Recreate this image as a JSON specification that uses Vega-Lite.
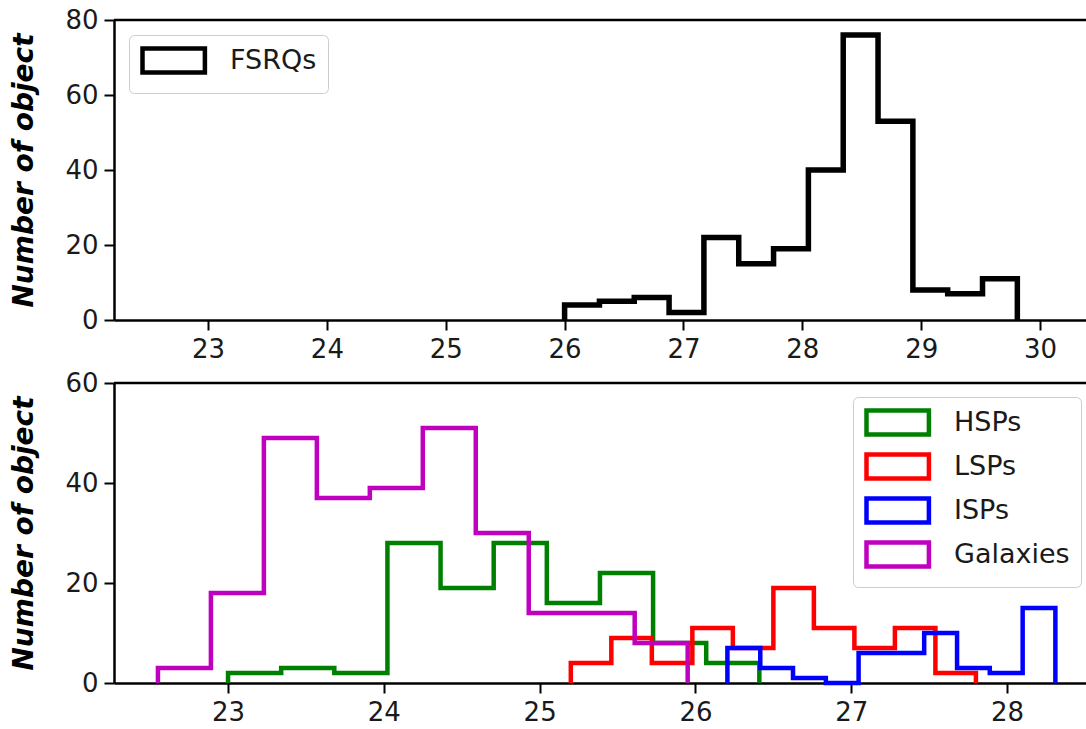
{
  "$schema": "https://vega.github.io/schema/vega-lite/v6.json",
  "padding": {"left": 10, "top": 7, "right": 0, "bottom": 0},
  "autosize": {"type": "pad"},
  "bounds": "flush",
  "spacing": 63,
  "background": "white",
  "datasets": {
    "fsrq": [
      {"series": "FSRQs", "i": 0, "edge": 26.0, "count": 0},
      {"series": "FSRQs", "i": 1, "edge": 26.0, "count": 4},
      {"series": "FSRQs", "i": 2, "edge": 26.293, "count": 5},
      {"series": "FSRQs", "i": 3, "edge": 26.586, "count": 6},
      {"series": "FSRQs", "i": 4, "edge": 26.879, "count": 2},
      {"series": "FSRQs", "i": 5, "edge": 27.172, "count": 22},
      {"series": "FSRQs", "i": 6, "edge": 27.465, "count": 15},
      {"series": "FSRQs", "i": 7, "edge": 27.758, "count": 19},
      {"series": "FSRQs", "i": 8, "edge": 28.051, "count": 40},
      {"series": "FSRQs", "i": 9, "edge": 28.344, "count": 76},
      {"series": "FSRQs", "i": 10, "edge": 28.637, "count": 53},
      {"series": "FSRQs", "i": 11, "edge": 28.93, "count": 8},
      {"series": "FSRQs", "i": 12, "edge": 29.223, "count": 7},
      {"series": "FSRQs", "i": 13, "edge": 29.516, "count": 11},
      {"series": "FSRQs", "i": 14, "edge": 29.809, "count": 0}
    ],
    "others": [
      {"series": "HSPs", "i": 0, "edge": 23.0, "count": 0},
      {"series": "HSPs", "i": 1, "edge": 23.0, "count": 2},
      {"series": "HSPs", "i": 2, "edge": 23.341, "count": 3},
      {"series": "HSPs", "i": 3, "edge": 23.682, "count": 2},
      {"series": "HSPs", "i": 4, "edge": 24.023, "count": 28},
      {"series": "HSPs", "i": 5, "edge": 24.364, "count": 19},
      {"series": "HSPs", "i": 6, "edge": 24.705, "count": 28},
      {"series": "HSPs", "i": 7, "edge": 25.046, "count": 16},
      {"series": "HSPs", "i": 8, "edge": 25.387, "count": 22},
      {"series": "HSPs", "i": 9, "edge": 25.728, "count": 8},
      {"series": "HSPs", "i": 10, "edge": 26.069, "count": 4},
      {"series": "HSPs", "i": 11, "edge": 26.41, "count": 0},
      {"series": "LSPs", "i": 0, "edge": 25.2, "count": 0},
      {"series": "LSPs", "i": 1, "edge": 25.2, "count": 4},
      {"series": "LSPs", "i": 2, "edge": 25.46, "count": 9},
      {"series": "LSPs", "i": 3, "edge": 25.72, "count": 4},
      {"series": "LSPs", "i": 4, "edge": 25.98, "count": 11},
      {"series": "LSPs", "i": 5, "edge": 26.24, "count": 7},
      {"series": "LSPs", "i": 6, "edge": 26.5, "count": 19},
      {"series": "LSPs", "i": 7, "edge": 26.76, "count": 11},
      {"series": "LSPs", "i": 8, "edge": 27.02, "count": 7},
      {"series": "LSPs", "i": 9, "edge": 27.28, "count": 11},
      {"series": "LSPs", "i": 10, "edge": 27.54, "count": 2},
      {"series": "LSPs", "i": 11, "edge": 27.8, "count": 0},
      {"series": "ISPs", "i": 0, "edge": 26.205, "count": 0},
      {"series": "ISPs", "i": 1, "edge": 26.205, "count": 7},
      {"series": "ISPs", "i": 2, "edge": 26.416, "count": 3},
      {"series": "ISPs", "i": 3, "edge": 26.626, "count": 1},
      {"series": "ISPs", "i": 4, "edge": 26.837, "count": 0},
      {"series": "ISPs", "i": 5, "edge": 27.047, "count": 6},
      {"series": "ISPs", "i": 6, "edge": 27.258, "count": 6},
      {"series": "ISPs", "i": 7, "edge": 27.468, "count": 10},
      {"series": "ISPs", "i": 8, "edge": 27.679, "count": 3},
      {"series": "ISPs", "i": 9, "edge": 27.889, "count": 2},
      {"series": "ISPs", "i": 10, "edge": 28.1, "count": 15},
      {"series": "ISPs", "i": 11, "edge": 28.31, "count": 0},
      {"series": "Galaxies", "i": 0, "edge": 22.55, "count": 0},
      {"series": "Galaxies", "i": 1, "edge": 22.55, "count": 3},
      {"series": "Galaxies", "i": 2, "edge": 22.89, "count": 18},
      {"series": "Galaxies", "i": 3, "edge": 23.23, "count": 49},
      {"series": "Galaxies", "i": 4, "edge": 23.57, "count": 37},
      {"series": "Galaxies", "i": 5, "edge": 23.91, "count": 39},
      {"series": "Galaxies", "i": 6, "edge": 24.25, "count": 51},
      {"series": "Galaxies", "i": 7, "edge": 24.59, "count": 30},
      {"series": "Galaxies", "i": 8, "edge": 24.93, "count": 14},
      {"series": "Galaxies", "i": 9, "edge": 25.27, "count": 14},
      {"series": "Galaxies", "i": 10, "edge": 25.61, "count": 8},
      {"series": "Galaxies", "i": 11, "edge": 25.95, "count": 0}
    ]
  },
  "config": {
    "view": {"stroke": null},
    "axis": {
      "grid": false,
      "domainColor": "black",
      "domainWidth": 2.5,
      "tickColor": "black",
      "tickWidth": 2,
      "tickSize": 10,
      "labelFont": "DejaVu Sans",
      "labelFontSize": 26,
      "labelColor": "#1a1a1a",
      "labelPadding": 6,
      "zindex": 1,
      "titleFont": "DejaVu Sans",
      "titleFontSize": 28,
      "titleFontWeight": "bold",
      "titleFontStyle": "italic",
      "titleColor": "black"
    },
    "legend": {
      "orient": "none",
      "title": null,
      "symbolType": "M-1,-1H4.2V1H-1Z",
      "symbolSize": 576,
      "symbolStrokeWidth": 4.5,
      "symbolFillColor": "white",
      "labelFont": "DejaVu Sans",
      "labelFontSize": 27,
      "labelColor": "#1a1a1a",
      "labelOffset": 61,
      "padding": 11,
      "rowPadding": 1,
      "strokeColor": "#cccccc",
      "fillColor": "white",
      "cornerRadius": 5
    }
  },
  "resolve": {"scale": {"color": "independent"}, "legend": {"color": "independent"}},
  "vconcat": [
    {
      "width": 973,
      "height": 300,
      "layer": [
        {
          "data": {"name": "fsrq"},
          "mark": {"type": "line", "interpolate": "step-after", "strokeWidth": 5.5, "strokeJoin": "miter"},
          "encoding": {
            "x": {"field": "edge", "type": "quantitative", "scale": {"domain": [22.209, 30.395], "nice": false, "zero": false}, "axis": {"title": null, "values": [23, 24, 25, 26, 27, 28, 29, 30], "format": "d"}},
            "y": {"field": "count", "type": "quantitative", "scale": {"domain": [0, 80], "nice": false}, "axis": {"title": "Number of object", "values": [0, 20, 40, 60, 80], "titlePadding": 26}},
            "color": {"field": "series", "type": "nominal", "scale": {"domain": ["FSRQs"], "range": ["black"]}, "legend": {"legendX": 15, "legendY": 15}},
            "order": {"field": "i", "type": "quantitative"}
          }
        },
        {
          "data": {"values": [{}]},
          "mark": {"type": "rule", "color": "black", "strokeWidth": 2.5},
          "encoding": {"y": {"datum": 80}}
        }
      ]
    },
    {
      "width": 973,
      "height": 300,
      "layer": [
        {
          "data": {"name": "others"},
          "mark": {"type": "line", "interpolate": "step-after", "strokeWidth": 4.5, "strokeJoin": "miter"},
          "encoding": {
            "x": {"field": "edge", "type": "quantitative", "scale": {"domain": [22.268, 28.513], "nice": false, "zero": false}, "axis": {"title": null, "values": [23, 24, 25, 26, 27, 28], "format": "d"}},
            "y": {"field": "count", "type": "quantitative", "scale": {"domain": [0, 60], "nice": false}, "axis": {"title": "Number of object", "values": [0, 20, 40, 60], "titlePadding": 26}},
            "color": {"field": "series", "type": "nominal", "scale": {"domain": ["HSPs", "LSPs", "ISPs", "Galaxies"], "range": ["#008000", "#ff0000", "#0000ff", "#bf00bf"]}, "legend": {"legendX": 739, "legendY": 14}},
            "order": {"field": "i", "type": "quantitative"}
          }
        },
        {
          "data": {"values": [{}]},
          "mark": {"type": "rule", "color": "black", "strokeWidth": 2.5},
          "encoding": {"y": {"datum": 60}}
        }
      ]
    }
  ]
}
